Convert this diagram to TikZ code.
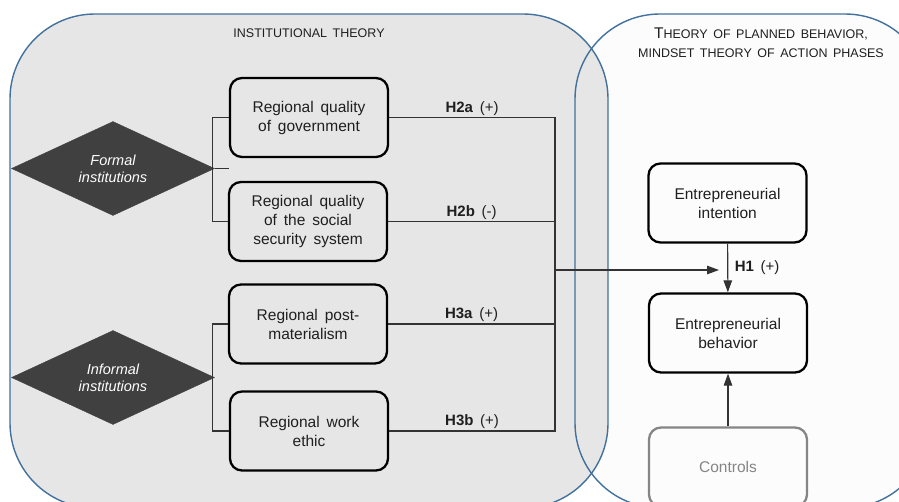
\documentclass[tikz,border=0pt]{standalone}
\usepackage{fontspec}
\setmainfont{Liberation Sans}[WordSpace=1.6]
\usetikzlibrary{shapes.geometric, arrows.meta, positioning}
\definecolor{panelBlue}{HTML}{41719C}
\definecolor{panelGray}{HTML}{E6E6E6}
\definecolor{panelWhite}{HTML}{FCFCFC}
\definecolor{instFill}{HTML}{404040}
\definecolor{lineDark}{HTML}{333333}
\definecolor{textDark}{HTML}{1F1F1F}
\definecolor{ctrlGray}{HTML}{858585}
\tikzset{
  model/.style = {
    font=\fontsize{15.5}{19}\selectfont, text=textDark,
    >={Triangle[length=12pt,width=8.5pt]},
  },
  panel/.style = {draw=panelBlue, line width=1.4pt, rounded corners=85pt},
  varbox/.style = {
    rectangle, rounded corners=12pt, draw=black, line width=2.3pt,
    minimum width=158pt, minimum height=79pt, align=center, inner sep=2pt,
  },
  ctrlbox/.style = {varbox, draw=ctrlGray, text=ctrlGray},
  inst/.style = {
    diamond, aspect=2.2, fill=instFill, draw=instFill,
    minimum width=203pt, minimum height=94pt, inner sep=0pt,
    text=white, align=center, font=\fontsize{14.5}{17}\selectfont\itshape,
  },
  heading/.style = {font=\fontsize{12.5}{19}\selectfont, align=center},
  brk/.style = {draw=lineDark, line width=1.1pt},
  ln/.style = {draw=lineDark, line width=1.1pt},
  arr/.style = {ln, ->},
  hyp/.style = {font=\fontsize{15}{17}\selectfont, inner sep=1.5pt},
}

\begin{document}
\begin{tikzpicture}[model, x=1pt, y=-1pt]

\useasboundingbox (0,0) rectangle (899,501);
\clip (0,0) rectangle (899,501);

\fill[panelWhite, rounded corners=85pt] (575,14) rectangle (930,508);
\filldraw[panel, fill=panelGray] (10,14) rectangle (608,508);
\draw[panel] (575,14) rectangle (930,508);

\node[heading] (instT) at (309,33) {INSTITUTIONAL\ THEORY};
\node[heading] (tpbT)  at (761,42.5)
  {{\fontsize{15.5}{19}\selectfont T}HEORY\ OF\ PLANNED\ BEHAVIOR,\\
   MINDSET\ THEORY\ OF\ ACTION\ PHASES};

\node[inst]    (formal)   at (113,168.5) {Formal\\institutions};
\node[inst]    (informal) at (113,377.5) {Informal\\institutions};

\node[varbox]  (gov)  at (309,117.5) {Regional quality\\of government};
\node[varbox]  (soc)  at (308,221.5) {Regional quality\\of the social\\security system};
\node[varbox]  (post) at (308,324)   {Regional post-\\materialism};
\node[varbox]  (work) at (309,431)   {Regional work\\ethic};

\node[varbox]  (int)  at (727.5,203) {Entrepreneurial\\intention};
\node[varbox]  (beh)  at (728,333)   {Entrepreneurial\\behavior};
\node[ctrlbox] (ctrl) at (728,467)   {Controls};

\coordinate (join) at (555,270);
\coordinate (tip)  at (719,270);

\draw[brk] (gov.west) -- ++(-16,0) |- (soc.west);
\draw[brk] (formal.east) -- (formal.east -| gov.west);
\draw[brk] (post.west) -- ++(-15,0) |- (work.west);

\draw[ln] (gov.east)  -| node[hyp, above, pos=0.25] {\textbf{H2a} (+)} (join);
\draw[ln] (soc.east)  -| node[hyp, above, pos=0.25] {\textbf{H2b} (-)} (join);
\draw[ln] (post.east) -| node[hyp, above, pos=0.25] {\textbf{H3a} (+)} (join);
\draw[ln] (work.east) -| node[hyp, above, pos=0.25] {\textbf{H3b} (+)} (join);
\draw[arr] (join) -- (tip);

\draw[arr] (int) -- node[hyp, right=5pt] {\textbf{H1} (+)} (beh);
\draw[arr] (ctrl) -- (beh);

\end{tikzpicture}
\end{document}
